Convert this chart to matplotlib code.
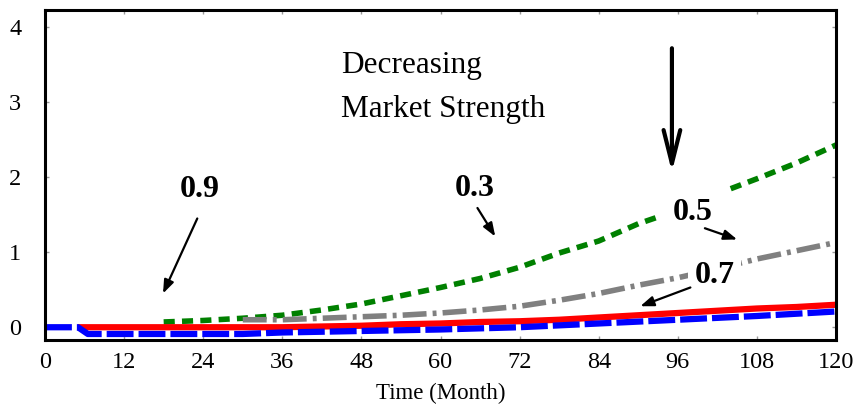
import matplotlib
matplotlib.use('Agg')
import matplotlib.pyplot as plt

# values (market strength 0.3 / 0.5 / 0.7 / 0.9)
months_03 = [18, 24, 30, 36, 42, 48, 54, 60, 66, 72, 78, 84, 90, 96, 102, 108, 114, 120]
values_03 = [0.07, 0.09, 0.12, 0.16, 0.23, 0.31, 0.42, 0.53, 0.65, 0.80, 0.99, 1.15, 1.38, 1.56, 1.78, 1.98, 2.19, 2.43]

months_05 = [30, 36, 42, 48, 54, 60, 66, 72, 78, 84, 90, 96, 102, 108, 114, 120]
values_05 = [0.10, 0.10, 0.12, 0.14, 0.16, 0.19, 0.23, 0.28, 0.36, 0.45, 0.56, 0.66, 0.78, 0.91, 1.02, 1.13]

months_07 = [5, 12, 24, 36, 42, 48, 54, 60, 66, 72, 78, 84, 90, 96, 102, 108, 114, 120]
values_07 = [0.0, 0.0, 0.0, 0.0, 0.01, 0.02, 0.04, 0.05, 0.07, 0.08, 0.10, 0.13, 0.16, 0.19, 0.22, 0.25, 0.27, 0.30]

months_09 = [0, 5, 6.5, 30, 36, 48, 60, 72, 84, 96, 108, 120]
values_09 = [0.0, 0.0, -0.09, -0.09, -0.07, -0.05, -0.03, 0.0, 0.05, 0.10, 0.15, 0.21]

x_ticks = [0, 12, 24, 36, 48, 60, 72, 84, 96, 108, 120]
y_ticks = [0, 1, 2, 3, 4]

SERIF = 'Liberation Serif'


def add_label(ax, text, pos, start, end, pad=None):
    """Bold label with a small arrow pointing at its curve"""
    bbox = None
    if pad is not None:
        bbox = dict(boxstyle='square,pad=%s' % pad, fc='white', ec='none')
    ax.text(pos[0], pos[1], text, ha='center', va='center', fontsize=23,
            fontweight='bold', family=SERIF, bbox=bbox, zorder=3)
    ax.annotate('', xy=end, xytext=start, zorder=4,
                arrowprops=dict(arrowstyle='-|>,head_length=0.8,head_width=0.3',
                                lw=1.6, color='black', shrinkA=0, shrinkB=0))


fig = plt.figure(figsize=(8.54, 4.08), dpi=100)
ax = fig.add_axes([0.0527, 0.1667, 0.9263, 0.8088])

ax.plot(months_03, values_03, color='#008000', lw=4, dashes=(2.0, 1.3))
ax.plot(months_05, values_05, color='#808080', lw=4, dashes=(4.3, 1.1, 0.7, 1.1))
ax.plot(months_07, values_07, color='#ff0000', lw=4.5, solid_capstyle='butt')
ax.plot(months_09, values_09, color='#0000ff', lw=4.5, dashes=(4.3, 0.8))

ax.set_xlim(0, 120)
ax.set_ylim(-0.17, 4.23)
ax.set_xticks(x_ticks)
ax.set_yticks(y_ticks)
ax.set_xticklabels([str(t) for t in x_ticks], family=SERIF, fontsize=17.5)
ax.set_yticklabels([str(t) for t in y_ticks], family=SERIF, fontsize=17.5)
ax.tick_params(axis='both', direction='in', length=3, width=1, color='#999999',
               top=True, right=True)
ax.tick_params(axis='x', pad=9)
ax.tick_params(axis='y', pad=17)
ax.set_xlabel('Time (Month)', family=SERIF, fontsize=16.5, labelpad=7)

for spine in ax.spines.values():
    spine.set_linewidth(2.2)
    spine.set_color('black')

ax.text(44.9, 3.68, 'Decreasing\nMarket Strength', ha='left', va='top',
        fontsize=22.5, family=SERIF, linespacing=1.65)

# big arrow showing direction of decreasing strength
ax.annotate('', xy=(95.1, 2.07), xytext=(95.1, 3.72), zorder=4,
            arrowprops=dict(arrowstyle='->,head_length=1.2,head_width=0.3',
                            lw=3, color='black', shrinkA=0, shrinkB=0,
                            mutation_scale=20))

add_label(ax, '0.9', (23.5, 1.83), (23.1, 1.45), (17.9, 0.45))
add_label(ax, '0.3', (65.2, 1.85), (65.6, 1.59), (68.3, 1.21))
add_label(ax, '0.5', (98.3, 1.53), (100.1, 1.32), (105.0, 1.17), pad=0.5)
add_label(ax, '0.7', (101.6, 0.69), (97.9, 0.53), (90.3, 0.28), pad=0.2)

plt.savefig('out.png', dpi=100)
